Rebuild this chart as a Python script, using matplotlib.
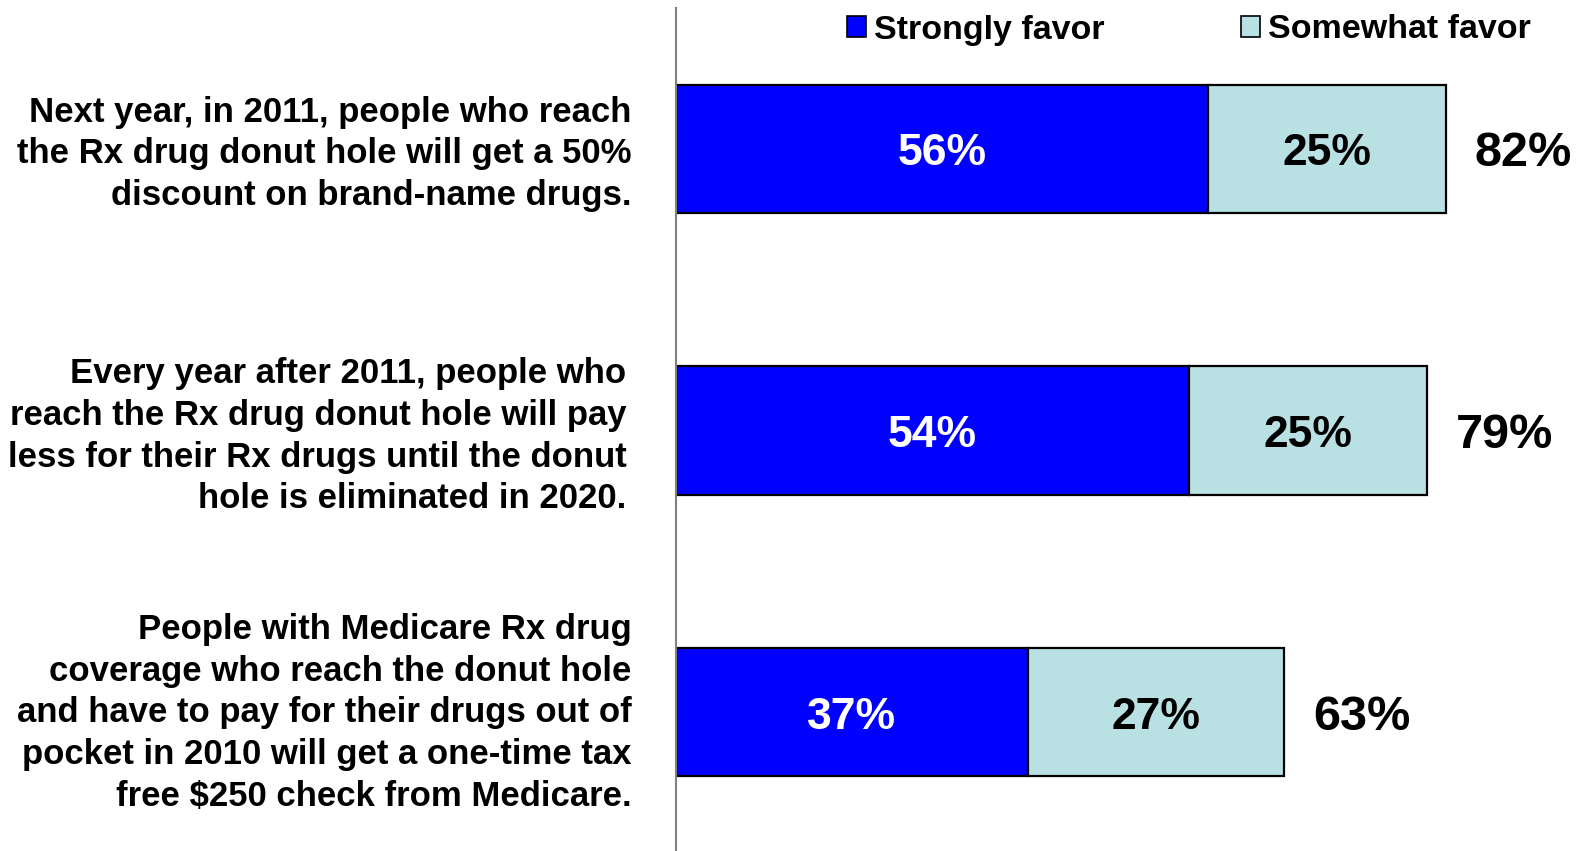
import matplotlib
matplotlib.use("Agg")
import matplotlib.pyplot as plt
from matplotlib.patches import Patch
from matplotlib.transforms import ScaledTranslation

categories = [
    "Next year, in 2011, people who reach\nthe Rx drug donut hole will get a 50%\ndiscount on brand-name drugs.",
    "Every year after 2011, people who\nreach the Rx drug donut hole will pay\nless for their Rx drugs until the donut\nhole is eliminated in 2020.",
    "People with Medicare Rx drug\ncoverage who reach the donut hole\nand have to pay for their drugs out of\npocket in 2010 will get a one-time tax\nfree $250 check from Medicare.",
]
strongly = [56, 54, 37]
somewhat = [25, 25, 27]
totals = [82, 79, 63]
series_names = ["Strongly favor", "Somewhat favor"]

BLUE = "#0000FF"
TEAL = "#B9E0E3"
plt.rcParams['font.family'] = ['Liberation Sans', 'DejaVu Sans']

W, H = 1579, 851
fig = plt.figure(figsize=(W / 100, H / 100), dpi=100)
ax = fig.add_axes([676 / W, 1 - 853 / H, (W - 676) / W, 845 / H])

y = list(range(len(categories)))
ax.barh(y, strongly, height=0.455, color=BLUE, edgecolor="black", linewidth=1.6)
ax.barh(y, somewhat, left=strongly, height=0.455, color=TEAL, edgecolor="black", linewidth=1.6)

down = ScaledTranslation(0, -5 / 100, fig.dpi_scale_trans)
for i in y:
    ax.text(strongly[i] / 2, i, f"{strongly[i]}%", ha="center", va="center",
            color="white", fontsize=32, fontweight="bold", transform=ax.transData + down)
    ax.text(strongly[i] + somewhat[i] / 2, i, f"{somewhat[i]}%", ha="center", va="center",
            color="black", fontsize=32, fontweight="bold", transform=ax.transData + down)
    ax.text(strongly[i] + somewhat[i] + 3.0, i, f"{totals[i]}%", ha="left", va="center",
            color="black", fontsize=35, fontweight="bold", transform=ax.transData + down)

ax.set_xlim(0, 95)
ax.set_ylim(2.5, -0.5)
ax.set_yticks(y)
ax.set_yticklabels(categories, fontsize=25, fontweight="bold", linespacing=1.33)
ax.tick_params(axis="y", length=0, pad=32)
ax.set_xticks([])
for s in ["top", "right", "bottom"]:
    ax.spines[s].set_visible(False)
ax.spines["left"].set_color("#808080")
ax.spines["left"].set_linewidth(1.5)

offsets = [(0, 3), (-5, 2), (0, 7)]
for lbl, (dx, dy) in zip(ax.get_yticklabels(), offsets):
    lbl.set_transform(lbl.get_transform() + ScaledTranslation(dx / 100, dy / 100, fig.dpi_scale_trans))

handles = [Patch(facecolor=BLUE, edgecolor="black", linewidth=1.2),
           Patch(facecolor=TEAL, edgecolor="black", linewidth=1.2)]
leg = fig.legend(handles, series_names, loc="center left",
                 bbox_to_anchor=(847 / W, 1 - 30 / H), ncol=2, frameon=False,
                 prop={"size": 24.5, "weight": "bold"}, handlelength=0.55, handleheight=0.6,
                 handletextpad=0.25, columnspacing=4.0, borderaxespad=0, borderpad=0)

fig.savefig("out.png", dpi=100, facecolor="white")
